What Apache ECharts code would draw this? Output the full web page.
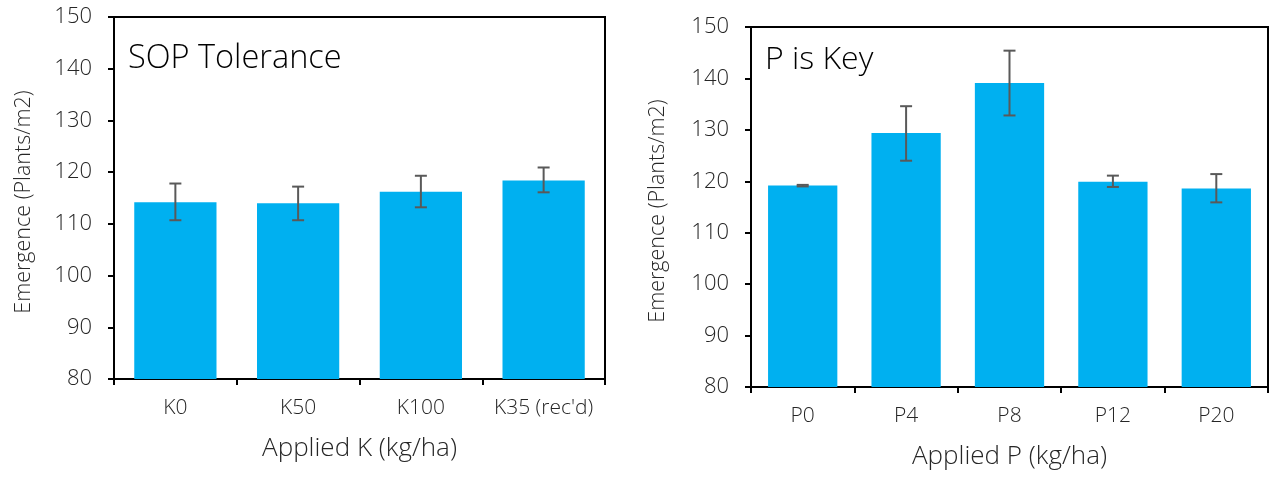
<!DOCTYPE html>
<html>
<head>
<meta charset="utf-8">
<script src="https://cdn.jsdelivr.net/npm/echarts@6/dist/echarts.min.js"></script>
<style>
html,body{margin:0;padding:0;background:#fff;}
#chart{width:1271px;height:477px;}
</style>
</head>
<body>
<div id="chart"></div>
<script>
// ---- data ----
var kCategories = ['K0', 'K50', 'K100', "K35 (rec'd)"];
var kMeans = [114.2, 114.0, 116.2, 118.4];
var kLow = [110.7, 110.7, 113.2, 116.1];
var kHigh = [117.8, 117.2, 119.3, 120.9];

var pCategories = ['P0', 'P4', 'P8', 'P12', 'P20'];
var pMeans = [119.2, 129.4, 139.1, 119.9, 118.6];
var pLow = [119.0, 124.0, 132.8, 118.9, 115.9];
var pHigh = [119.3, 134.6, 145.4, 121.1, 121.4];

var yTicks = { min: 80, max: 150, interval: 10 };

var FONT = 'Open Sans';
var TXT = '#262626';
var BAR = '#00B0F0';
var ERR = '#595959';

function errData(low, high) {
  return low.map(function (v, i) { return [i, v, high[i]]; });
}
function errRender(params, api) {
  var i = api.value(0);
  var lo = api.coord([i, api.value(1)]);
  var hi = api.coord([i, api.value(2)]);
  var half = 6;
  var st = { stroke: ERR, lineWidth: 2 };
  return {
    type: 'group',
    children: [
      { type: 'line', shape: { x1: lo[0], y1: lo[1], x2: hi[0], y2: hi[1] }, style: st },
      { type: 'line', shape: { x1: lo[0] - half, y1: lo[1], x2: lo[0] + half, y2: lo[1] }, style: st },
      { type: 'line', shape: { x1: hi[0] - half, y1: hi[1], x2: hi[0] + half, y2: hi[1] }, style: st }
    ]
  };
}

function xAxis(idx, cats, name) {
  return {
    type: 'category', gridIndex: idx, data: cats,
    name: name, nameLocation: 'middle', nameGap: 57,
    nameTextStyle: { fontFamily: FONT, fontSize: 26, color: TXT, fontWeight: 300 },
    axisLine: { show: true, lineStyle: { color: '#000', width: 2 } },
    axisTick: { show: true, interval: 0, length: 6, lineStyle: { color: '#000', width: 2 } },
    axisLabel: { interval: 0, hideOverlap: false, fontFamily: FONT, fontSize: 21, color: TXT, margin: 19, fontWeight: 300 },
    splitLine: { show: false }
  };
}
function yAxis(idx, gap) {
  return {
    type: 'value', gridIndex: idx, min: yTicks.min, max: yTicks.max, interval: yTicks.interval,
    name: 'Emergence (Plants/m2)', nameLocation: 'middle', nameGap: gap,
    nameTextStyle: { fontFamily: FONT, fontSize: 21.5, color: TXT, fontWeight: 300, padding: [0, 8, 0, 0] },
    axisLine: { show: true, lineStyle: { color: '#000', width: 2 } },
    axisTick: { show: true, length: 6, lineStyle: { color: '#000', width: 2 } },
    axisLabel: { fontFamily: FONT, fontSize: 22, color: TXT, margin: 22, fontWeight: 300 },
    splitLine: { show: false }
  };
}

var chart = echarts.init(document.getElementById('chart'), null, { renderer: 'canvas' });
chart.setOption({
  animation: false,
  backgroundColor: '#fff',
  graphic: [
    { type: 'text', left: 128, top: 42, style: { text: 'SOP Tolerance', fontFamily: FONT, fontSize: 32.5, fontWeight: 300, fill: '#000' } },
    { type: 'text', left: 765, top: 44, style: { text: 'P is Key', fontFamily: FONT, fontSize: 32, fontWeight: 300, fill: '#000' } }
  ],
  grid: [
    { left: 114, top: 17, width: 491, height: 362, show: true, borderColor: '#000', borderWidth: 2, backgroundColor: 'transparent' },
    { left: 751, top: 27, width: 517, height: 360, show: true, borderColor: '#000', borderWidth: 2, backgroundColor: 'transparent' }
  ],
  xAxis: [ xAxis(0, kCategories, 'Applied K (kg/ha)'), xAxis(1, pCategories, 'Applied P (kg/ha)') ],
  yAxis: [ yAxis(0, 79), yAxis(1, 82) ],
  series: [
    { type: 'bar', xAxisIndex: 0, yAxisIndex: 0, data: kMeans, barCategoryGap: '33%', itemStyle: { color: BAR } },
    { type: 'custom', xAxisIndex: 0, yAxisIndex: 0, data: errData(kLow, kHigh), renderItem: errRender, z: 5 },
    { type: 'bar', xAxisIndex: 1, yAxisIndex: 1, data: pMeans, barCategoryGap: '33%', itemStyle: { color: BAR } },
    { type: 'custom', xAxisIndex: 1, yAxisIndex: 1, data: errData(pLow, pHigh), renderItem: errRender, z: 5 }
  ]
});
</script>
</body>
</html>
